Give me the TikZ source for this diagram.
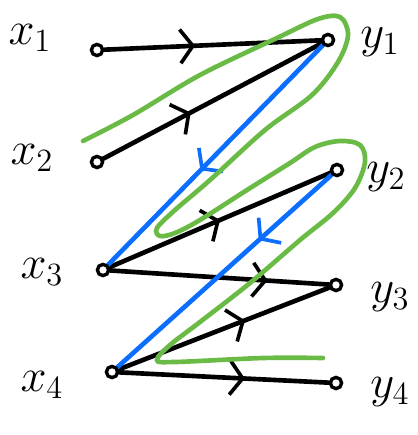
\documentclass[tikz,border=0pt]{standalone}
\usepackage{amsmath}
\usetikzlibrary{arrows.meta, decorations.markings, backgrounds}
\definecolor{pengreen}{RGB}{106,187,70}
\definecolor{penblue}{RGB}{12,110,255}
\newcommand{\biglab}[1]{\scalebox{1.6}{\huge$#1$}}

\begin{document}
\begin{tikzpicture}[x=0.025cm, y=-0.025cm,
    vert/.style={circle, draw, line width=2.4pt, fill=white, inner sep=0pt, minimum size=8pt},
    link/.style={line width=3.3pt, line cap=round},
    midarrow/.style={postaction={decorate}, decoration={markings,
      mark=at position #1 with {\arrow[line width=2.6pt, line cap=round]{Straight Barb[length=9pt, width=24pt]}}}}]
  \useasboundingbox (0,0) rectangle (418,435);
  \node[vert] (x1) at (97,50) {};
  \node[vert] (x2) at (97,162) {};
  \node[vert] (x3) at (103,270) {};
  \node[vert] (x4) at (112,372) {};
  \node[vert] (y1) at (328,40) {};
  \node[vert] (y2) at (337,170) {};
  \node[vert] (y3) at (336,285) {};
  \node[vert] (y4) at (336,383) {};
  \node (lx1) at (30,38) {\biglab{x_1}};
  \node (lx2) at (32,158) {\biglab{x_2}};
  \node (lx3) at (42,272) {\biglab{x_3}};
  \node (lx4) at (42,385) {\biglab{x_4}};
  \node (ly1) at (380,42) {\biglab{y_1}};
  \node (ly2) at (386,177) {\biglab{y_2}};
  \node (ly3) at (390,297) {\biglab{y_3}};
  \node (ly4) at (390,392) {\biglab{y_4}};
  \begin{scope}[on background layer]
    \draw[link, midarrow=0.42] (x1) -- (y1);
    \draw[link, midarrow=0.4] (x2) -- (y1);
    \draw[link, midarrow=0.5] (x3) -- (y2);
    \draw[link, midarrow=0.72] (x3) -- (y3);
    \draw[link, midarrow=0.6] (x4) -- (y3);
    \draw[link, midarrow=0.6] (x4) -- (y4);
    \draw[link, penblue, midarrow=0.57] (y1) -- (x3);
    \draw[link, penblue, midarrow=0.34] (y2) -- (x4);
    \draw[link, pengreen] plot[smooth, tension=0.55] coordinates {
      (83,141) (133,115) (200,75) (277,38) (318,19) (340,17) (348,35) (338,62)
      (312,95) (265,130) (210,180) (175,210) (157,228) (160,236) (175,233)
      (200,220) (247,190) (290,163) (315,147) (340,141) (360,145) (365,162)
      (355,188) (333,213) (300,240) (250,283) (200,322) (170,345) (157,360)
      (175,362) (263,358) (323,358)};
  \end{scope}
\end{tikzpicture}
\end{document}
